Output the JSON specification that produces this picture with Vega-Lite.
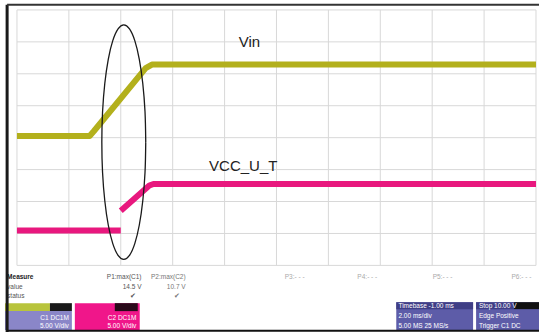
{
  "$schema": "https://vega.github.io/schema/vega-lite/v6.json",
  "width": 540,
  "height": 334,
  "autosize": {"type": "fit", "contains": "padding"},
  "padding": 0,
  "background": "white",
  "config": {"view": {"stroke": null}},
  "datasets": {
    "vgrid": [{"t": 0}, {"t": 1}, {"t": 2}, {"t": 3}, {"t": 4}, {"t": 5}, {"t": 6}, {"t": 7}, {"t": 8}, {"t": 9}, {"t": 10}],
    "hgrid": [{"v": 0}, {"v": 1}, {"v": 2}, {"v": 3}, {"v": 4}, {"v": 5}, {"v": 6}, {"v": 7}, {"v": 8}],
    "traces": [
      {"series": "Vin", "seg": "a", "o": 1, "t": 0, "v": 4.05},
      {"series": "Vin", "seg": "a", "o": 2, "t": 1.40, "v": 4.05},
      {"series": "Vin", "seg": "a", "o": 3, "t": 1.48, "v": 4.2},
      {"series": "Vin", "seg": "a", "o": 4, "t": 2.48, "v": 6.18},
      {"series": "Vin", "seg": "a", "o": 5, "t": 2.60, "v": 6.29},
      {"series": "Vin", "seg": "a", "o": 6, "t": 10, "v": 6.29},
      {"series": "VCC", "seg": "b", "o": 1, "t": 0, "v": 1.09},
      {"series": "VCC", "seg": "b", "o": 2, "t": 2.0, "v": 1.09},
      {"series": "VCC", "seg": "c", "o": 1, "t": 2.0, "v": 1.71},
      {"series": "VCC", "seg": "c", "o": 2, "t": 2.55, "v": 2.5},
      {"series": "VCC", "seg": "c", "o": 3, "t": 2.63, "v": 2.55},
      {"series": "VCC", "seg": "c", "o": 4, "t": 10, "v": 2.55}
    ],
    "ellipse": [
      {"o": 0, "t": 2.481, "v": 3.86},
      {"o": 1, "t": 2.467, "v": 4.811},
      {"o": 2, "t": 2.424, "v": 5.695},
      {"o": 3, "t": 2.357, "v": 6.455},
      {"o": 4, "t": 2.270, "v": 7.038},
      {"o": 5, "t": 2.168, "v": 7.405},
      {"o": 6, "t": 2.058, "v": 7.53},
      {"o": 7, "t": 1.948, "v": 7.405},
      {"o": 8, "t": 1.846, "v": 7.038},
      {"o": 9, "t": 1.759, "v": 6.455},
      {"o": 10, "t": 1.692, "v": 5.695},
      {"o": 11, "t": 1.649, "v": 4.811},
      {"o": 12, "t": 1.635, "v": 3.86},
      {"o": 13, "t": 1.649, "v": 2.909},
      {"o": 14, "t": 1.692, "v": 2.025},
      {"o": 15, "t": 1.759, "v": 1.265},
      {"o": 16, "t": 1.846, "v": 0.682},
      {"o": 17, "t": 1.948, "v": 0.315},
      {"o": 18, "t": 2.058, "v": 0.19},
      {"o": 19, "t": 2.168, "v": 0.315},
      {"o": 20, "t": 2.270, "v": 0.682},
      {"o": 21, "t": 2.357, "v": 1.265},
      {"o": 22, "t": 2.424, "v": 2.025},
      {"o": 23, "t": 2.467, "v": 2.909},
      {"o": 24, "t": 2.481, "v": 3.86}
    ],
    "boxes": [
      {"name": "c1", "t1": -0.231, "t2": 0.635, "v1": -1.183, "v2": -1.432, "c": "#b8c43c"},
      {"name": "c1k", "t1": 0.635, "t2": 1.058, "v1": -1.183, "v2": -1.432, "c": "#1a1a1a"},
      {"name": "c1p", "t1": -0.231, "t2": 1.058, "v1": -1.432, "v2": -2.023, "c": "#8a86c8"},
      {"name": "c2", "t1": 1.115, "t2": 2.365, "v1": -1.183, "v2": -2.023, "c": "#f0168a"},
      {"name": "c2k", "t1": 1.885, "t2": 2.327, "v1": -1.183, "v2": -1.432, "c": "#2a0a1a"},
      {"name": "tb", "t1": 7.308, "t2": 8.788, "v1": -1.152, "v2": -2.023, "c": "#5d5ca8"},
      {"name": "tbh", "t1": 7.308, "t2": 8.788, "v1": -1.152, "v2": -1.37, "c": "#3f3e86"},
      {"name": "tr", "t1": 8.846, "t2": 10.058, "v1": -1.152, "v2": -2.023, "c": "#5d5ca8"},
      {"name": "trh", "t1": 8.846, "t2": 9.577, "v1": -1.152, "v2": -1.37, "c": "#3f3e86"},
      {"name": "trk", "t1": 9.577, "t2": 10.058, "v1": -1.152, "v2": -1.37, "c": "#111111"}
    ],
    "labels": [
      {"text": "Vin", "t": 4.48, "v": 7.0},
      {"text": "VCC_U_T", "t": 4.36, "v": 3.1}
    ],
    "smallLeft": [
      {"text": "value", "t": -0.19, "v": -0.685, "c": "#555555"},
      {"text": "status", "t": -0.19, "v": -0.965, "c": "#555555"},
      {"text": "Timebase  -1.00 ms", "t": 7.35, "v": -1.27, "c": "#ffffff"},
      {"text": "Stop   10.00 V", "t": 8.9, "v": -1.27, "c": "#ffffff"},
      {"text": "2.00 ms/div", "t": 7.35, "v": -1.6, "c": "#ffffff"},
      {"text": "Edge   Positive", "t": 8.9, "v": -1.6, "c": "#ffffff"},
      {"text": "5.00 MS   25 MS/s", "t": 7.35, "v": -1.9, "c": "#ffffff"},
      {"text": "Trigger  C1 DC", "t": 8.9, "v": -1.9, "c": "#ffffff"}
    ],
    "smallBold": [
      {"text": "Measure", "t": -0.19, "v": -0.374, "c": "#222222"}
    ],
    "smallRight": [
      {"text": "P1:max(C1)", "t": 2.4, "v": -0.374, "c": "#555555"},
      {"text": "14.5 V", "t": 2.4, "v": -0.685, "c": "#555555"},
      {"text": "✔", "t": 2.3, "v": -0.965, "c": "#555555"},
      {"text": "P2:max(C2)", "t": 3.25, "v": -0.374, "c": "#777777"},
      {"text": "10.7 V", "t": 3.25, "v": -0.685, "c": "#777777"},
      {"text": "✔", "t": 3.15, "v": -0.965, "c": "#777777"},
      {"text": "C1  DC1M", "t": 1.0, "v": -1.65, "c": "#ffffff"},
      {"text": "5.00 V/div", "t": 1.0, "v": -1.9, "c": "#ffffff"},
      {"text": "C2  DC1M", "t": 2.3, "v": -1.65, "c": "#ffffff"},
      {"text": "5.00 V/div", "t": 2.3, "v": -1.9, "c": "#ffffff"}
    ],
    "smallCenter": [
      {"text": "P3:- - -", "t": 5.35, "v": -0.374, "c": "#aaaaaa"},
      {"text": "P4:- - -", "t": 6.75, "v": -0.374, "c": "#aaaaaa"},
      {"text": "P5:- - -", "t": 8.2, "v": -0.374, "c": "#aaaaaa"},
      {"text": "P6:- - -", "t": 9.72, "v": -0.374, "c": "#aaaaaa"}
    ]
  },
  "layer": [
    {
      "data": {"name": "vgrid"},
      "mark": {"type": "rule", "color": "#d8d8d8", "strokeWidth": 1},
      "encoding": {
        "x": {"field": "t", "type": "quantitative", "scale": {"domain": [-0.327, 10.058], "nice": false, "zero": false}, "axis": null},
        "y": {"datum": 0, "type": "quantitative", "scale": {"domain": [-2.086, 8.311], "nice": false, "zero": false}, "axis": null},
        "y2": {"datum": 8}
      }
    },
    {
      "data": {"name": "hgrid"},
      "mark": {"type": "rule", "color": "#d8d8d8", "strokeWidth": 1},
      "encoding": {
        "y": {"field": "v", "type": "quantitative"},
        "x": {"datum": 0, "type": "quantitative"},
        "x2": {"datum": 10}
      }
    },
    {
      "data": {"name": "traces"},
      "mark": {"type": "line", "strokeWidth": 6, "strokeCap": "butt", "strokeJoin": "round"},
      "encoding": {
        "x": {"field": "t", "type": "quantitative"},
        "y": {"field": "v", "type": "quantitative"},
        "detail": {"field": "seg"},
        "order": {"field": "o"},
        "color": {"field": "series", "type": "nominal", "scale": {"domain": ["Vin", "VCC"], "range": ["#b3b01c", "#e8187e"]}, "legend": null}
      }
    },
    {
      "data": {"name": "ellipse"},
      "mark": {"type": "line", "color": "#1a1a1a", "strokeWidth": 1.3, "interpolate": "cardinal"},
      "encoding": {
        "x": {"field": "t", "type": "quantitative"},
        "y": {"field": "v", "type": "quantitative"},
        "order": {"field": "o"}
      }
    },
    {
      "data": {"name": "boxes"},
      "mark": {"type": "rect"},
      "encoding": {
        "x": {"field": "t1", "type": "quantitative"},
        "x2": {"field": "t2"},
        "y": {"field": "v1", "type": "quantitative"},
        "y2": {"field": "v2"},
        "color": {"field": "c", "type": "nominal", "scale": null}
      }
    },
    {
      "data": {"name": "labels"},
      "mark": {"type": "text", "font": "Liberation Sans", "fontSize": 15, "color": "#222222", "align": "center", "baseline": "middle"},
      "encoding": {
        "x": {"field": "t", "type": "quantitative"},
        "y": {"field": "v", "type": "quantitative"},
        "text": {"field": "text"}
      }
    },
    {
      "data": {"name": "smallLeft"},
      "mark": {"type": "text", "font": "Liberation Sans", "fontSize": 6.5, "align": "left", "baseline": "middle"},
      "encoding": {
        "x": {"field": "t", "type": "quantitative"},
        "y": {"field": "v", "type": "quantitative"},
        "text": {"field": "text"},
        "color": {"field": "c", "type": "nominal", "scale": null}
      }
    },
    {
      "data": {"name": "smallBold"},
      "mark": {"type": "text", "font": "Liberation Sans", "fontSize": 6.5, "fontWeight": "bold", "align": "left", "baseline": "middle"},
      "encoding": {
        "x": {"field": "t", "type": "quantitative"},
        "y": {"field": "v", "type": "quantitative"},
        "text": {"field": "text"},
        "color": {"field": "c", "type": "nominal", "scale": null}
      }
    },
    {
      "data": {"name": "smallRight"},
      "mark": {"type": "text", "font": "Liberation Sans", "fontSize": 6.5, "align": "right", "baseline": "middle"},
      "encoding": {
        "x": {"field": "t", "type": "quantitative"},
        "y": {"field": "v", "type": "quantitative"},
        "text": {"field": "text"},
        "color": {"field": "c", "type": "nominal", "scale": null}
      }
    },
    {
      "data": {"name": "smallCenter"},
      "mark": {"type": "text", "font": "Liberation Sans", "fontSize": 6.5, "align": "center", "baseline": "middle"},
      "encoding": {
        "x": {"field": "t", "type": "quantitative"},
        "y": {"field": "v", "type": "quantitative"},
        "text": {"field": "text"},
        "color": {"field": "c", "type": "nominal", "scale": null}
      }
    },
    {
      "data": {"values": [{}]},
      "mark": {"type": "rule", "color": "#1a1a1a", "strokeWidth": 3},
      "encoding": {
        "x": {"datum": -0.19, "type": "quantitative"},
        "y": {"datum": 8.16, "type": "quantitative"},
        "y2": {"datum": -2.086}
      }
    },
    {
      "data": {"values": [{}]},
      "mark": {"type": "rule", "color": "#333333", "strokeWidth": 2},
      "encoding": {
        "y": {"datum": 8.16, "type": "quantitative"},
        "x": {"datum": -0.19, "type": "quantitative"},
        "x2": {"datum": 10.058}
      }
    },
    {
      "data": {"values": [{}]},
      "mark": {"type": "rule", "color": "#111111", "strokeWidth": 2},
      "encoding": {
        "y": {"datum": -2.05, "type": "quantitative"},
        "x": {"datum": -0.19, "type": "quantitative"},
        "x2": {"datum": 10.058}
      }
    }
  ]
}
